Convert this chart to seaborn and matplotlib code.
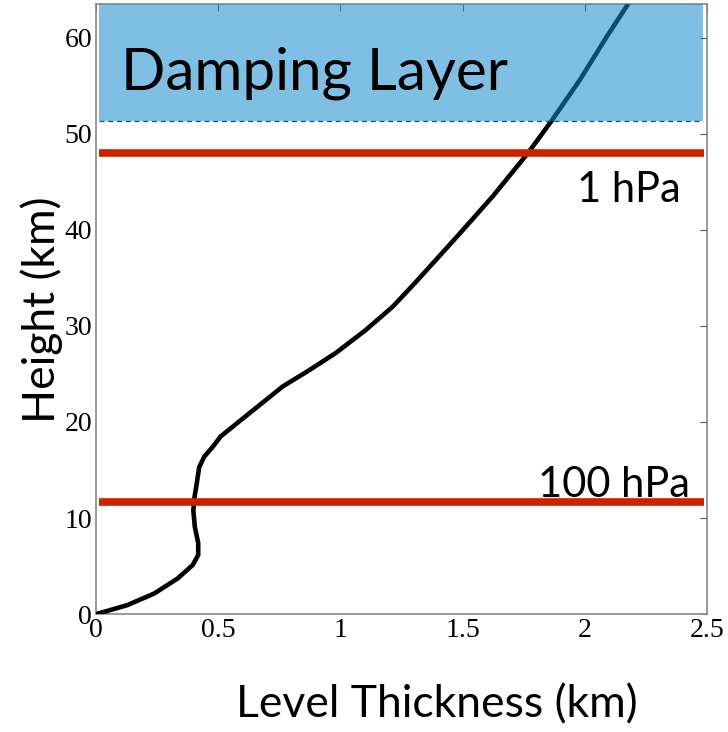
import matplotlib
matplotlib.use("Agg")
import matplotlib.pyplot as plt
import pandas as pd
import seaborn as sns

# level thickness profile
height_km = [0, 0.14, 0.94, 2.15, 3.7, 5.1, 6.15, 7.4, 9.1, 10.8, 12.05,
             13.6, 15.3, 16.4, 17.4, 18.5, 20.9, 23.7, 25.4, 27.2, 29.6,
             32.0, 34.6, 39.6, 43.5, 48.0, 51.3, 55.6, 60.1, 63.4]
thickness_km = [0, 0.019, 0.128, 0.238, 0.333, 0.395, 0.418, 0.418, 0.404,
                0.398, 0.402, 0.412, 0.422, 0.443, 0.477, 0.51, 0.627, 0.764,
                0.873, 0.982, 1.105, 1.214, 1.31, 1.488, 1.624, 1.768, 1.863,
                1.98, 2.09, 2.175]

pressure_labels = ["1 hPa", "100 hPa"]
pressure_heights = [48.0, 11.7]
damping_bottom = 51.35

sns.set_style("white")
plt.rcParams["text.color"] = "black"

fig = plt.figure(figsize=(7.28, 7.32), dpi=100)
ax = fig.add_axes([0.132, 0.161, 0.839, 0.8335])

df = pd.DataFrame({"thickness": thickness_km, "height": height_km})
sns.lineplot(data=df, x="thickness", y="height", sort=False, estimator=None,
             color="black", linewidth=3.3, ax=ax, zorder=3)

for h in pressure_heights:
    ax.axhline(h, xmin=0.005, xmax=0.995, color="#cc2200", linewidth=5.5,
               solid_capstyle="butt", zorder=4)

ax.axhspan(damping_bottom, 63.5, xmin=0.005, xmax=0.993, facecolor="#168bcc",
           alpha=0.55, edgecolor="none", zorder=5)
ax.axhline(damping_bottom, xmin=0.005, xmax=0.993, color="#1f4e79",
           linewidth=0.9, linestyle=(0, (4, 3)), zorder=6)

ax.text(0.1, 54.6, "Damping Layer", fontsize=42, family="Lato",
        va="baseline", ha="left", color="black", zorder=7)
ax.text(1.97, 42.9, pressure_labels[0], fontsize=30, family="Lato",
        va="baseline", ha="left", color="black", zorder=7)
ax.text(2.43, 12.2, pressure_labels[1], fontsize=30, family="Lato",
        va="baseline", ha="right", color="black", zorder=7)

ax.set_xlim(0, 2.5)
ax.set_ylim(0, 63.5)
ax.set_xticks([0, 0.5, 1, 1.5, 2, 2.5])
ax.set_xticklabels(["0", "0.5", "1", "1.5", "2", "2.5"])
ax.set_yticks([0, 10, 20, 30, 40, 50, 60])
ax.tick_params(direction="in", length=5, width=0.8, color="#555555",
               labelcolor="black", top=True, right=True, labelsize=20, pad=3)
for lab in ax.get_xticklabels() + ax.get_yticklabels():
    lab.set_family("Liberation Serif")
for sp in ax.spines.values():
    sp.set_color("#888888")
    sp.set_linewidth(1.2)

ax.set_xlabel("")
ax.set_ylabel("")
fig.text(0.600, 0.037, "Level Thickness (km)", fontsize=32, family="Lato",
         ha="center", va="center", color="black")
fig.text(0.057, 0.577, "Height (km)", fontsize=32, family="Lato",
         ha="center", va="center", rotation=90, color="black")

fig.savefig("out.png", dpi=100)
